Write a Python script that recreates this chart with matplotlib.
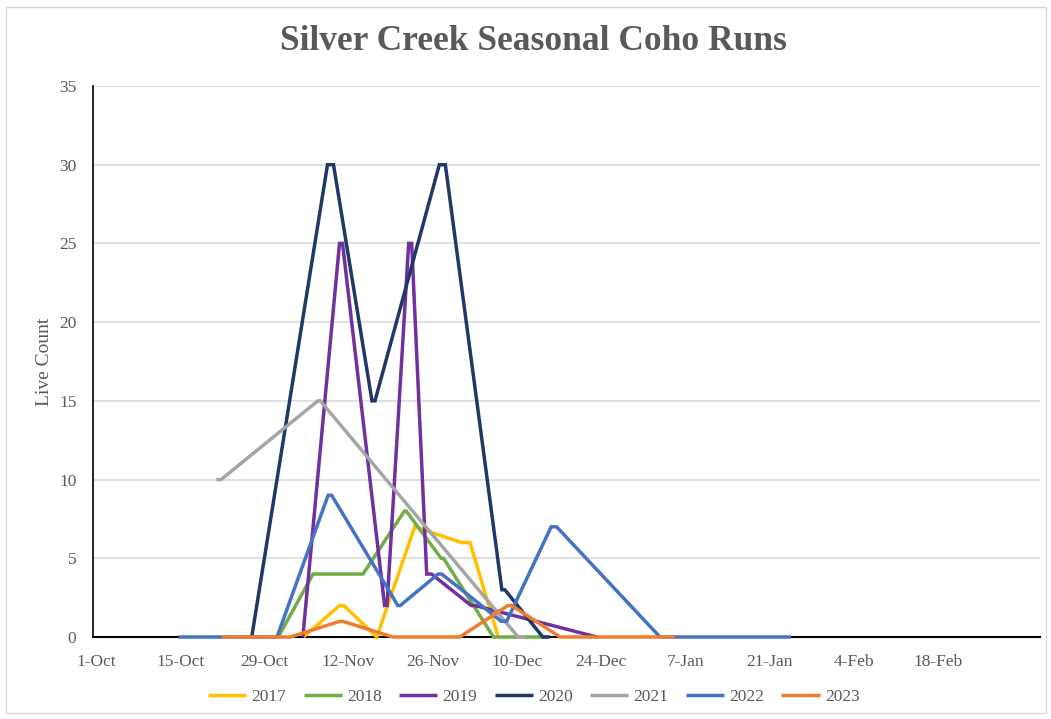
import matplotlib.pyplot as plt
from matplotlib.patches import Rectangle

# Survey days are counted from 1 Oct of each season
tick_days = [0, 14, 28, 42, 56, 70, 84, 98, 112, 126, 140]
tick_labels = ['1-Oct', '15-Oct', '29-Oct', '12-Nov', '26-Nov', '10-Dec',
               '24-Dec', '7-Jan', '21-Jan', '4-Feb', '18-Feb']

days_2017 = [34.5, 40.5, 41.2, 46.7, 53.0, 60.8, 62.2, 66.9]
live_2017 = [0, 2, 2, 0, 7, 6, 6, 0]

days_2018 = [30.3, 36.1, 44.4, 51.3, 51.6, 57.4, 57.8, 66.1, 75.0]
live_2018 = [0, 4, 4, 8, 8, 5, 5, 0, 0]

days_2019 = [34.4, 40.5, 41.0, 48.0, 48.4, 52.0, 52.5, 55.0, 55.8, 62.4, 63.0, 83.3]
live_2019 = [0, 25, 25, 2, 2, 25, 25, 4, 4, 2, 2, 0]

days_2020 = [25.9, 38.5, 39.5, 45.9, 46.4, 57.1, 58.1, 67.5, 68.0, 74.3, 75.5]
live_2020 = [0, 30, 30, 15, 15, 30, 30, 3, 3, 0, 0]

days_2021 = [20.0, 20.8, 36.9, 37.3, 70.2, 71.5]
live_2021 = [10, 10, 15, 15, 0, 0]

days_2022 = [13.7, 30.1, 38.6, 39.2, 50.2, 50.6, 56.9, 57.5, 67.4, 68.3, 75.7, 76.6, 93.8, 115.6]
live_2022 = [0, 0, 9, 9, 2, 2, 4, 4, 1, 1, 7, 7, 0, 0]

days_2023 = [20.9, 32.3, 40.6, 41.0, 49.4, 60.5, 68.5, 69.1, 77.2, 96.3]
live_2023 = [0, 0, 1, 1, 0, 0, 2, 2, 0, 0]

seasons = ['2017', '2018', '2019', '2020', '2021', '2022', '2023']
colors = ['#FFC000', '#70AD47', '#7030A0', '#1F3864', '#A5A5A5', '#4472C4', '#ED7D31']
series = [(days_2017, live_2017), (days_2018, live_2018), (days_2019, live_2019),
          (days_2020, live_2020), (days_2021, live_2021), (days_2022, live_2022),
          (days_2023, live_2023)]

plt.rcParams['font.family'] = ['Liberation Serif', 'DejaVu Serif']
text_grey = '#595959'

fig = plt.figure(figsize=(10.51, 7.19), dpi=100)
ax = fig.add_axes([93 / 1051, 82 / 719, 947 / 1051, 551 / 719])

# lines sit on top of the axis spines so the zero runs stay coloured
for name, color, (d, v) in zip(seasons, colors, series):
    ax.plot(d, v, color=color, linewidth=2.5, label=name, zorder=3, clip_on=False,
            solid_joinstyle='miter', solid_capstyle='butt')

ax.set_xlim(-0.5, 157)
ax.set_ylim(0, 35)
ax.set_yticks(range(0, 36, 5))
ax.set_xticks(tick_days)
ax.set_xticklabels(tick_labels)
ax.tick_params(length=0, labelsize=12.5, colors=text_grey)
ax.tick_params(axis='x', pad=12)
ax.tick_params(axis='y', pad=12)
ax.yaxis.grid(True, color='#D9D9D9', linewidth=1.1)
ax.set_axisbelow(True)

for side in ['top', 'right']:
    ax.spines[side].set_visible(False)
ax.spines['left'].set_color('black')
ax.spines['bottom'].set_color('black')
ax.spines['left'].set_linewidth(1.2)
ax.spines['bottom'].set_linewidth(1.5)

ax.set_ylabel('Live Count', fontsize=14, color=text_grey, labelpad=4)

fig.text(533 / 1051, 1 - 42 / 719, 'Silver Creek Seasonal Coho Runs',
         ha='center', va='center', fontsize=25.5, fontweight='bold', color=text_grey)

fig.legend(loc='center', bbox_to_anchor=(0.508, 1 - 697 / 719), ncol=7,
           frameon=False, fontsize=12.5, handlelength=2.2, columnspacing=1.0,
           handletextpad=0.3, labelcolor=text_grey)

# chart area border
fig.patches.append(Rectangle((6 / 1051, 6 / 719), 1040 / 1051, 706 / 719,
                             transform=fig.transFigure, fill=False,
                             edgecolor='#D9D9D9', linewidth=1))

fig.savefig('out.png', dpi=100)
